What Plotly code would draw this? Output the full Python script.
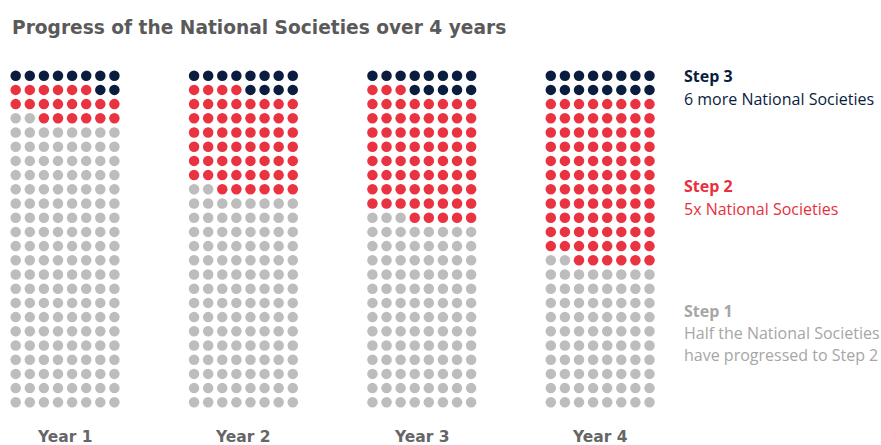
import plotly.graph_objects as go

years = ["Year 1", "Year 2", "Year 3", "Year 4"]
step1 = [162, 122, 107, 82]   # grey
step2 = [20, 58, 72, 94]      # red
step3 = [10, 12, 13, 16]      # navy
n_cols = 8
n_rows = 24

colors = {"Step 1": "#bdbdbd", "Step 2": "#ea3340", "Step 3": "#0b1d3f"}
W, H = 881, 445
dx, dy = 14.1, 14.2
group_gap = 12.65  # in column units
x0_px, top_px = 15.7, 75.7

fig = go.Figure()
series = [("Step 1", step1), ("Step 2", step2), ("Step 3", step3)]
for i, (name, vals) in enumerate(series):
    xs, ys = [], []
    for g in range(len(years)):
        start = sum(v[g] for _, v in series[:i])
        for k in range(start, start + vals[g]):
            r, c = divmod(k, n_cols)
            xs.append(g * group_gap + c)
            ys.append(r)
    fig.add_trace(go.Scatter(x=xs, y=ys, mode="markers", name=name,
                             marker=dict(size=10.5, color=colors[name], line=dict(width=0)),
                             hoverinfo="skip", showlegend=False))

xmin = -x0_px / dx
xmax = xmin + W / dx
bottom_row_px = top_px + (n_rows - 1) * dy
ymin = (bottom_row_px - H) / dy
ymax = bottom_row_px / dy

fig.update_xaxes(range=[xmin, xmax], visible=False)
fig.update_yaxes(range=[ymin, ymax], visible=False)

ann = []
for g, yl in enumerate(years):
    ann.append(dict(x=g * group_gap + (n_cols - 1) / 2, y=1 - 437 / H, xref="x", yref="paper",
                    text=f"<b>{yl}</b>", showarrow=False, xanchor="center", yanchor="middle",
                    font=dict(family="DejaVu Sans", size=15.5, color="#666666")))

legend_items = [
    (76, "<b>Step 3</b>", colors["Step 3"]),
    (99, "6 more National Societies", "#0b1d3f"),
    (186, "<b>Step 2</b>", "#e8303d"),
    (209, "5x National Societies", "#e8303d"),
    (311, "<b>Step 1</b>", "#a6a6a6"),
    (333, "Half the National Societies", "#a6a6a6"),
    (355, "have progressed to Step 2", "#a6a6a6"),
]
for ypx, txt, col in legend_items:
    ann.append(dict(x=682 / W, y=1 - ypx / H, xref="paper", yref="paper", text=txt,
                    showarrow=False, xanchor="left", yanchor="middle",
                    font=dict(family="Open Sans", size=16, color=col)))

ann.append(dict(x=10 / W, y=1 - 28 / H, xref="paper", yref="paper",
                text="<b>Progress of the National Societies over 4 years</b>",
                showarrow=False, xanchor="left", yanchor="middle",
                font=dict(family="DejaVu Sans", size=18.6, color="#5a5a5a")))

fig.update_layout(width=W, height=H, margin=dict(l=0, r=0, t=0, b=0),
                  plot_bgcolor="white", paper_bgcolor="white", annotations=ann)
fig.write_html("out.html", config={"displayModeBar": False},
               post_script="document.body.style.margin='0';document.body.style.overflow='hidden';")
